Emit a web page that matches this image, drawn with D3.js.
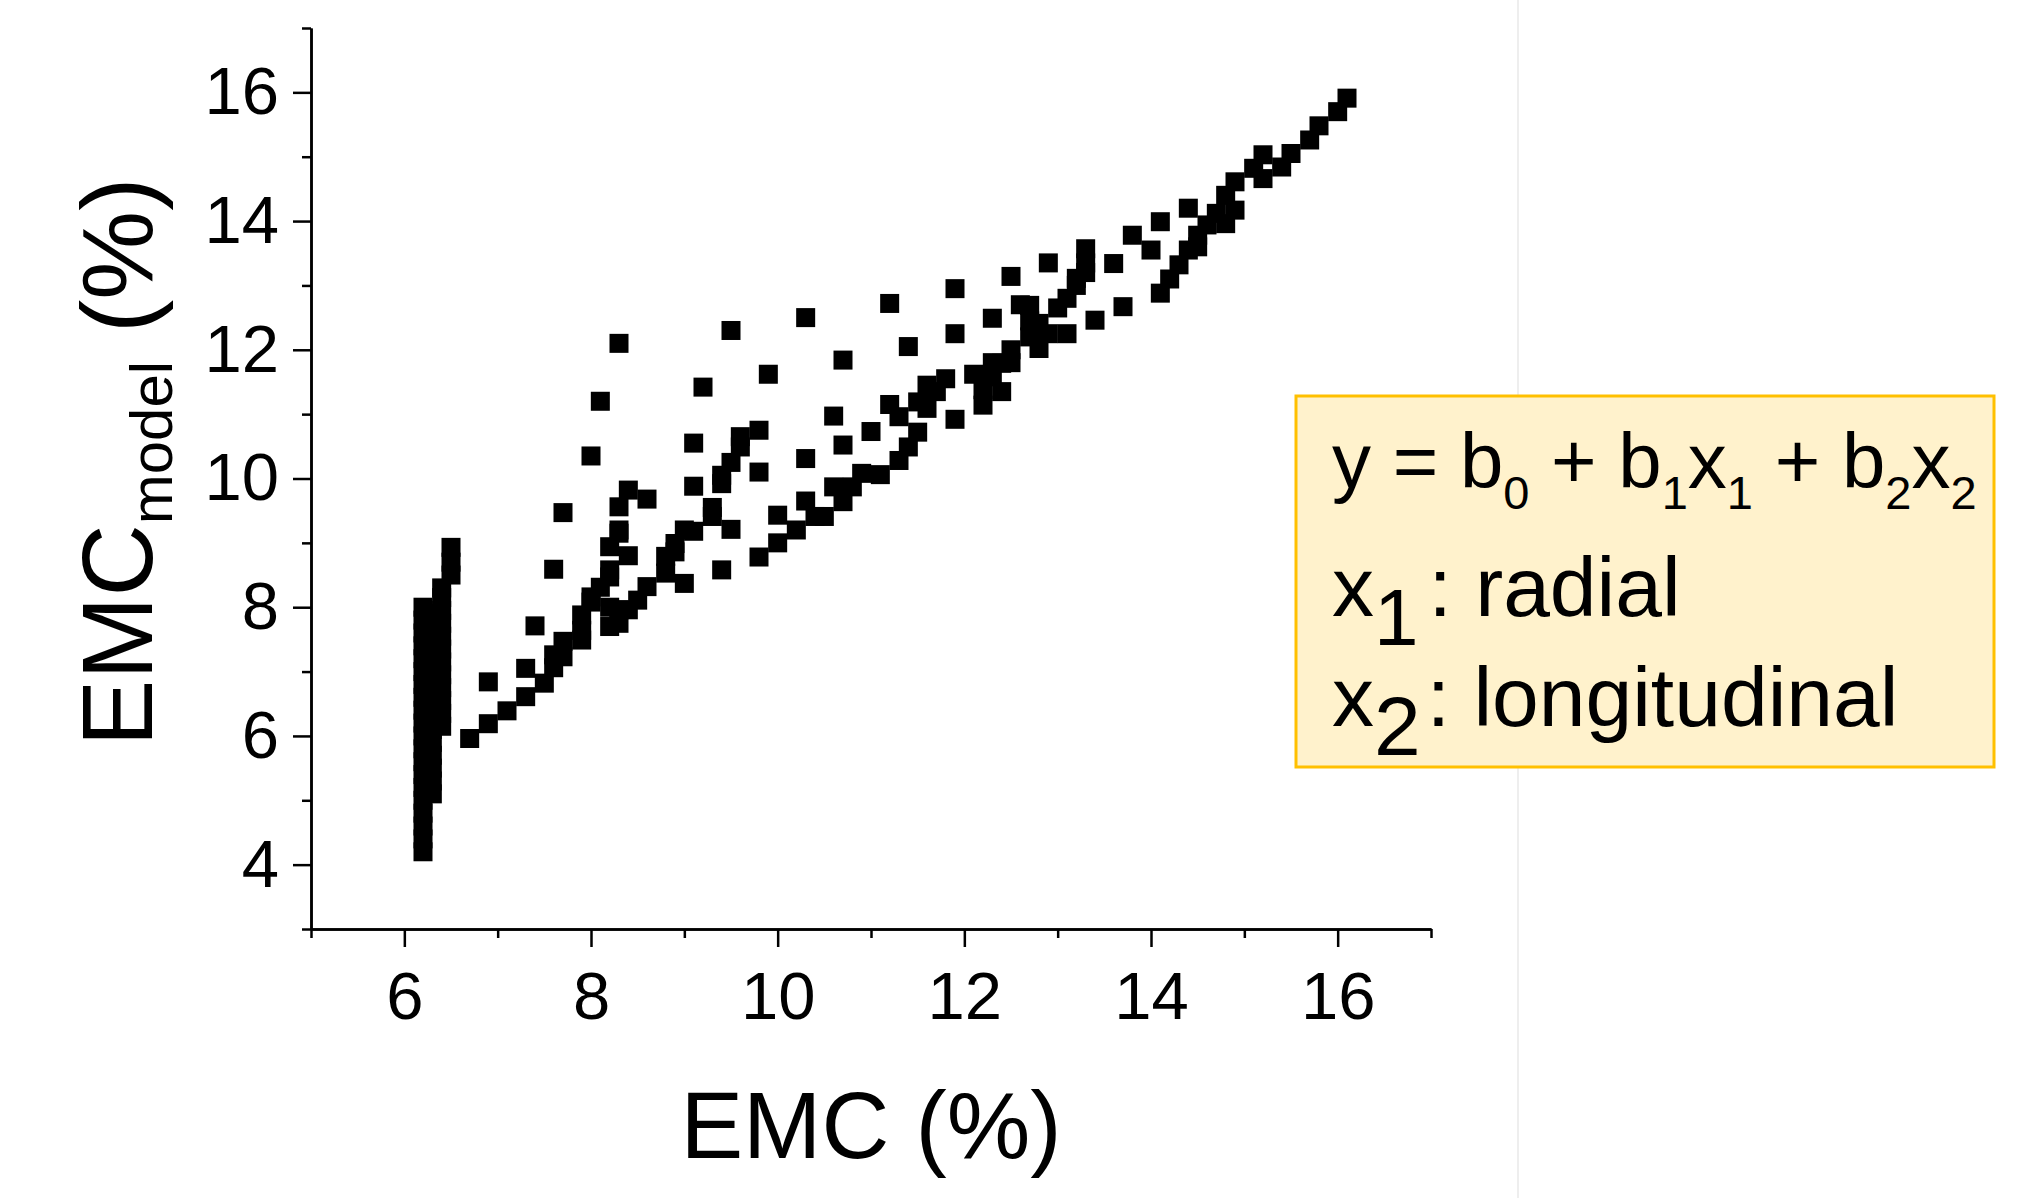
<!DOCTYPE html>
<html>
<head>
<meta charset="utf-8">
<script src="https://cdn.jsdelivr.net/npm/d3@7"></script>
<style>
  body { margin: 0; background: #fff; }
  text { font-family: "Liberation Sans", Arial, sans-serif; fill: #000; }
</style>
</head>
<body>
<svg width="2028" height="1198"></svg>
<script>
// stacked columns at the low EMC end (x value, list of y values)
const stackX = [6.2, 6.3, 6.4, 6.5];
const stackY = [
    [4.2, 4.4, 4.6, 4.8, 5.0, 5.2, 5.4, 5.6, 5.8, 6.0, 6.2, 6.4, 6.6, 6.8, 7.0, 7.2, 7.4, 7.6, 7.8, 8.0],
    [5.1, 5.3, 5.5, 5.7, 5.9, 6.1, 6.3, 6.5, 6.7, 6.9, 7.1, 7.3, 7.5, 7.7, 7.9],
    [6.15, 6.35, 6.55, 6.75, 6.95, 7.15, 7.35, 7.55, 7.75, 7.95, 8.15, 8.3],
    [8.5, 8.7, 8.93]
];

// isolated points above the main trend [EMC, EMC_model]
const upperPoints = [
    [6.9, 6.84], [7.4, 7.71], [7.6, 8.59], [7.7, 9.47], [8.0, 10.35], [8.1, 11.2], [8.3, 12.1],
    [9.1, 10.55], [9.1, 9.88], [9.2, 11.42], [9.5, 12.3], [9.9, 11.62], [10.3, 12.5], [10.3, 10.31],
    [10.6, 10.97], [10.7, 10.52], [10.7, 11.84], [11.0, 10.73], [11.2, 12.72], [11.4, 12.05],
    [11.9, 12.25], [11.9, 12.95], [12.3, 12.49], [12.5, 13.14], [12.6, 12.7], [12.9, 13.35],
    [13.3, 13.57], [13.6, 13.34], [13.8, 13.78], [14.0, 13.55], [14.1, 13.99]
];

// steep band near y = x
const mainPoints = [
    [7.3, 7.05], [7.6, 7.06], [7.6, 7.26], [7.7, 7.23], [7.7, 7.47], [7.9, 7.64], [7.9, 7.88],
    [8.0, 8.08], [8.0, 8.16], [8.1, 8.31], [8.2, 8.47], [8.2, 8.58], [8.2, 8.94], [8.3, 9.15],
    [8.3, 9.2], [8.3, 9.56], [8.4, 8.8], [8.4, 9.82], [8.6, 9.68], [8.8, 8.79], [8.9, 8.99],
    [9.0, 9.2], [9.1, 9.18], [9.3, 9.41], [9.3, 9.55], [9.4, 9.92], [9.4, 10.05], [9.5, 10.25],
    [9.6, 10.49], [9.6, 10.65], [9.8, 10.75], [9.8, 10.1], [10.0, 9.43], [11.2, 11.15],
    [11.3, 10.96], [11.5, 11.19], [11.6, 11.45], [11.7, 11.35], [11.8, 11.55], [12.1, 11.62],
    [12.3, 11.8], [12.5, 12.0]
];

// lower band running up to the top right
const lowerPoints = [
    [6.7, 5.96], [6.9, 6.19], [7.1, 6.39], [7.3, 6.61], [7.5, 6.82], [7.9, 7.49], [8.2, 7.7],
    [8.3, 7.75], [8.3, 7.96], [8.2, 8.0], [8.4, 7.96], [8.5, 8.11], [8.6, 8.32], [8.8, 8.53],
    [8.9, 8.86], [9.0, 8.37], [9.4, 8.58], [9.5, 9.21], [9.8, 8.78], [10.0, 9.0], [10.2, 9.2],
    [10.3, 9.65], [10.4, 9.41], [10.5, 9.41], [10.6, 9.87], [10.7, 9.64], [10.8, 9.87],
    [10.9, 10.08], [11.1, 10.06], [11.3, 10.28], [11.4, 10.49], [11.5, 10.72], [11.6, 11.09],
    [11.9, 10.92], [12.2, 11.14], [12.2, 11.38], [12.3, 11.58], [12.4, 11.35], [12.4, 11.79],
    [12.5, 11.8], [12.7, 12.2], [12.7, 12.45], [12.7, 12.69], [12.8, 12.02], [12.8, 12.41],
    [12.9, 12.25], [13.0, 12.65], [13.1, 12.25], [13.1, 12.8], [13.2, 13.0], [13.2, 13.11],
    [13.3, 13.2], [13.3, 13.35], [13.4, 12.46], [13.7, 12.67], [14.1, 12.88], [14.2, 13.1],
    [14.3, 13.32], [14.4, 13.55], [14.4, 14.2], [14.5, 13.6], [14.5, 13.78], [14.6, 13.94],
    [14.7, 14.12], [14.8, 13.96], [14.8, 14.4], [14.9, 14.17], [14.9, 14.61], [15.1, 14.82],
    [15.2, 14.66], [15.2, 15.03], [15.4, 14.84], [15.5, 15.05], [15.7, 15.26], [15.8, 15.48],
    [16.0, 15.7], [16.1, 15.91]
];

const xMajor = [6, 8, 10, 12, 14, 16];
const xMinor = [5, 7, 9, 11, 13, 15, 17];
const yMajor = [4, 6, 8, 10, 12, 14, 16];
const yMinor = [3, 5, 7, 9, 11, 13, 15, 17];

const svg = d3.select("svg");

const x = d3.scaleLinear().domain([5, 17]).range([311, 1431]);
const y = d3.scaleLinear().domain([3, 17]).range([929, 28]);

// faint slide edge line behind the box
svg.append("line")
    .attr("x1", 1518).attr("x2", 1518)
    .attr("y1", 0).attr("y2", 1198)
    .attr("stroke", "#eeeeee").attr("stroke-width", 2);

// points
const allPoints = [];
stackX.forEach((sx, i) => stackY[i].forEach(v => allPoints.push([sx, v])));
upperPoints.concat(mainPoints, lowerPoints).forEach(p => allPoints.push(p));

const size = 19;
svg.append("g")
    .selectAll("rect")
    .data(allPoints)
    .join("rect")
    .attr("x", d => x(d[0]) - size / 2)
    .attr("y", d => y(d[1]) - size / 2)
    .attr("width", size)
    .attr("height", size)
    .attr("fill", "#000");

// axes
function styleAxis(g) {
    g.selectAll("path, line").attr("stroke", "#000").attr("stroke-width", 2.5);
    g.selectAll("text").style("font-size", "67px").attr("fill", "#000")
        .style("font-family", '"Liberation Sans", Arial, sans-serif');
}

svg.append("g")
    .attr("transform", "translate(0,929)")
    .call(d3.axisBottom(x).tickValues(xMinor).tickSize(9).tickSizeOuter(0).tickFormat(""))
    .call(styleAxis);
svg.append("g")
    .attr("transform", "translate(0,929)")
    .call(d3.axisBottom(x).tickValues(xMajor).tickSize(18).tickSizeOuter(0).tickPadding(24))
    .call(styleAxis);

svg.append("g")
    .attr("transform", "translate(311,0)")
    .call(d3.axisLeft(y).tickValues(yMinor).tickSize(9).tickSizeOuter(0).tickFormat(""))
    .call(styleAxis);
svg.append("g")
    .attr("transform", "translate(311,0)")
    .call(d3.axisLeft(y).tickValues(yMajor).tickSize(18).tickSizeOuter(0).tickPadding(14))
    .call(styleAxis);

// axis titles
svg.append("text")
    .attr("x", 871).attr("y", 1158)
    .attr("text-anchor", "middle")
    .style("font-size", "94px")
    .text("EMC (%)");

const yTitle = svg.append("text")
    .attr("transform", "translate(152,462) rotate(-90)")
    .attr("text-anchor", "middle")
    .style("font-size", "100px");
yTitle.append("tspan").text("EMC");
yTitle.append("tspan").attr("dy", 20).style("font-size", "60px").text("model");
yTitle.append("tspan").attr("dy", -20).text(" (%)");

// equation box
svg.append("rect")
    .attr("x", 1296).attr("y", 396)
    .attr("width", 698).attr("height", 371)
    .attr("fill", "#FFF2CC")
    .attr("stroke", "#FFC000")
    .attr("stroke-width", 3);

const eq = svg.append("text")
    .attr("x", 1332).attr("y", 488)
    .style("font-size", "78px");
const eqParts = [
    ["y = b", 0], ["0", 1], [" + b", 0], ["1", 1], ["x", 0], ["1", 1],
    [" + b", 0], ["2", 1], ["x", 0], ["2", 1]
];
let prevSub = 0;
eqParts.forEach(([t, sub]) => {
    eq.append("tspan")
        .attr("dy", (sub - prevSub) * 21)
        .style("font-size", sub ? "47px" : "78px")
        .text(t);
    prevSub = sub;
});

const line2 = svg.append("text").attr("x", 1332).attr("y", 616).style("font-size", "84px");
line2.append("tspan").text("x");
line2.append("tspan").attr("dy", 29).style("font-size", "80px").text("1");
line2.append("tspan").attr("dy", -29).attr("dx", 10).text(": radial");

const line3 = svg.append("text").attr("x", 1332).attr("y", 726).style("font-size", "84px");
line3.append("tspan").text("x");
line3.append("tspan").attr("dy", 29).style("font-size", "84px").text("2");
line3.append("tspan").attr("dy", -29).attr("dx", 6).text(": longitudinal");
</script>
</body>
</html>
